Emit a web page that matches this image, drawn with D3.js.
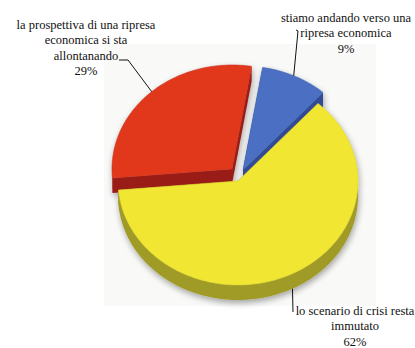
<!DOCTYPE html>
<html>
<head>
<meta charset="utf-8">
<script src="https://cdn.jsdelivr.net/npm/d3@7"></script>
<style>
body { margin: 0; background: #fff; }
</style>
</head>
<body>
<svg width="415" height="348"></svg>
<script>
"use strict";

// chart data
const categories = ["la prospettiva di una ripresa economica si sta allontanando",
                    "stiamo andando verso una ripresa economica",
                    "lo scenario di crisi resta immutato"];
const values = [29, 9, 62];
const labelLines = [
    ["la prospettiva di una ripresa", "economica si sta", "allontanando"],
    ["stiamo andando verso una", "ripresa economica"],
    ["lo scenario di crisi resta", "immutato"]
];
const topColors = ["#e1381f", "#4b70c3", "#f1e733"];
const sideColors = ["#a21b18", "#33509c", "#a09a26"];

const svg = d3.select("svg");

const RX = 120, RY = 104, DEPTH = 15;
const center = {x: 238, y: 178};
// how far each slice is pulled out of the pie
const explode = [{x: -6, y: -9}, {x: 5, y: -8}, {x: 0, y: 3}];
const deg = Math.PI / 180;

const pie = d3.pie().sort(null)
    .startAngle(-95 * deg)
    .endAngle(265 * deg);
const arcs = pie(values);

// faint backdrop of the pasted picture
svg.append("rect").attr("x", 104).attr("y", 44).attr("width", 272).attr("height", 262)
    .attr("fill", "#f9f9f8");

const defs = svg.append("defs");
const shadow = defs.append("filter").attr("id", "shadow")
    .attr("x", "-20%").attr("y", "-20%").attr("width", "140%").attr("height", "140%");
shadow.append("feGaussianBlur").attr("in", "SourceAlpha").attr("stdDeviation", 3);
shadow.append("feOffset").attr("dx", 1).attr("dy", 3).attr("result", "blur");
shadow.append("feComponentTransfer").append("feFuncA").attr("type", "linear").attr("slope", 0.35);
const merge = shadow.append("feMerge");
merge.append("feMergeNode");
merge.append("feMergeNode").attr("in", "SourceGraphic");

function pt(c, a, dy) {
    return [c.x + RX * Math.sin(a), c.y - RY * Math.cos(a) + (dy || 0)];
}
function arcPts(c, a0, a1, dy) {
    const n = Math.max(2, Math.ceil(Math.abs(a1 - a0) / 0.02));
    return d3.range(n + 1).map(i => pt(c, a0 + (a1 - a0) * i / n, dy));
}
const line = d3.line();

const g = svg.append("g").attr("filter", "url(#shadow)");

arcs.forEach((d, i) => {
    const c = {x: center.x + explode[i].x, y: center.y + explode[i].y};
    const s = d.startAngle, e = d.endAngle;
    const sg = g.append("g");

    // radial walls
    [s, e].forEach(a => {
        const p = pt(c, a);
        sg.append("path")
            .attr("d", line([[c.x, c.y], p, [p[0], p[1] + DEPTH], [c.x, c.y + DEPTH]]) + "Z")
            .attr("fill", d3.color(sideColors[i]).darker(0.15));
    });

    // outer wall, only the front half of the ellipse
    for (let k = -1; k <= 1; k++) {
        const lo = Math.max(s, 90 * deg + k * 2 * Math.PI);
        const hi = Math.min(e, 270 * deg + k * 2 * Math.PI);
        if (hi > lo) {
            const pts = arcPts(c, lo, hi, 0).concat(arcPts(c, hi, lo, DEPTH));
            sg.append("path").attr("d", line(pts) + "Z").attr("fill", sideColors[i]);
        }
    }

    // top face
    sg.append("path")
        .attr("d", line([[c.x, c.y]].concat(arcPts(c, s, e, 0))) + "Z")
        .attr("fill", topColors[i])
        .attr("stroke", d3.color(topColors[i]).darker(0.3))
        .attr("stroke-width", 0.6);
});

// labels
const labelPos = [{x: 86, y: 29}, {x: 346, y: 22}, {x: 355, y: 315}];
const lineH = 15.3;
labelLines.forEach((lines, i) => {
    const t = svg.append("text")
        .attr("text-anchor", "middle")
        .style("font-family", "'Liberation Serif'")
        .style("font-size", "12.5px")
        .style("fill", "#111");
    lines.concat([values[i] + "%"]).forEach((s, j) => {
        t.append("tspan").attr("x", labelPos[i].x).attr("y", labelPos[i].y + j * lineH).text(s);
    });
});

// leader lines: from the label to a point on the slice edge
const leaderAngles = [-42 * deg, 25 * deg, 153 * deg];
const leaderDepth = [0, 0, DEPTH];
const leaderStart = [[[119, 60], [128, 60]], [[296, 30], [298, 31]], [[293, 312]]];
arcs.forEach((d, i) => {
    const c = {x: center.x + explode[i].x, y: center.y + explode[i].y};
    const end = pt(c, leaderAngles[i], leaderDepth[i]);
    svg.append("path")
        .attr("d", line(leaderStart[i].concat([end])))
        .attr("fill", "none").attr("stroke", "#111").attr("stroke-width", 1);
});
</script>
</body>
</html>
